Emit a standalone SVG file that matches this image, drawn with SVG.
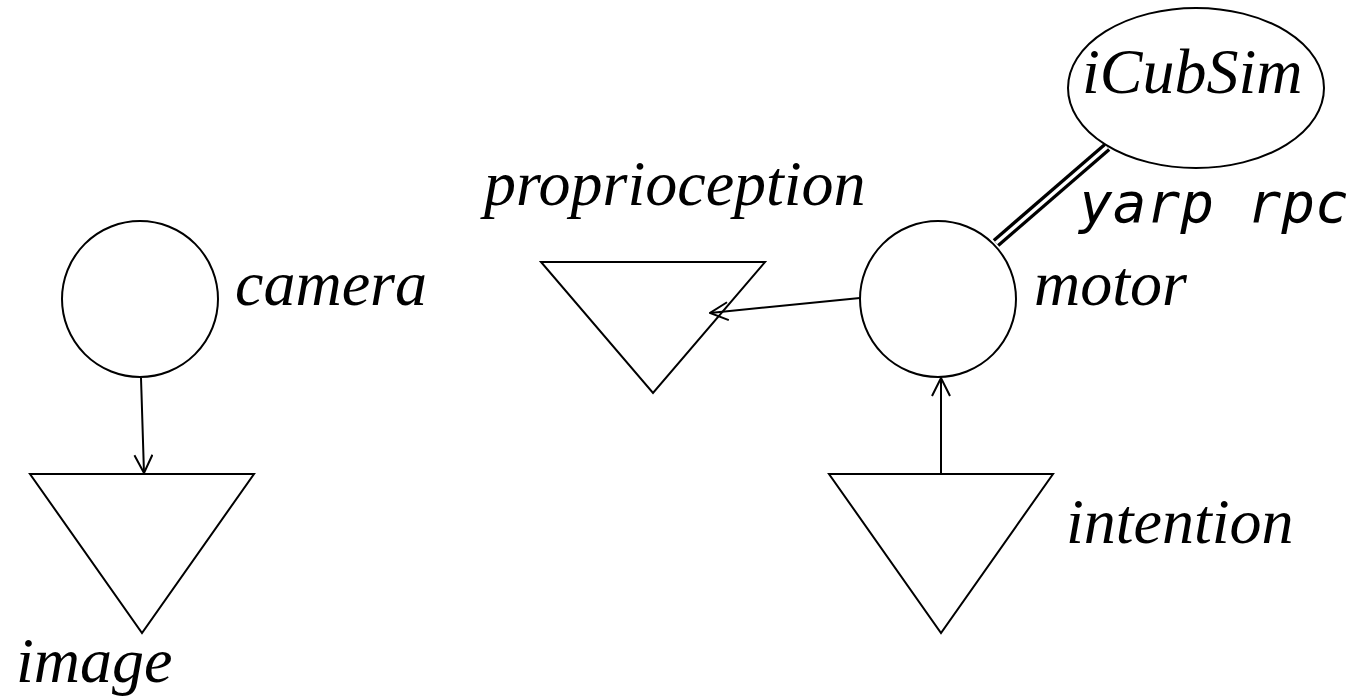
<svg xmlns="http://www.w3.org/2000/svg" width="1358" height="700" viewBox="0 0 1358 700">
<style>
.shape{fill:#fff;stroke:#000;stroke-width:2}
.lbl{font-family:"Liberation Serif","Times New Roman",serif;font-style:italic;font-size:64px;fill:#000}
.mono{font-family:"DejaVu Sans Mono",monospace;font-style:oblique;font-size:56px;fill:#000}
.conn{stroke:#000;stroke-width:2;fill:none}
</style>
<defs>
<marker id="arr" viewBox="0 0 20 20" refX="19" refY="10" markerWidth="20" markerHeight="20" markerUnits="userSpaceOnUse" orient="auto">
<path d="M1,1 L19,10 L1,19" fill="none" stroke="#000" stroke-width="2"/>
</marker>
</defs>
<rect width="1358" height="700" fill="#fff"/>
<g id="camera">
<circle class="shape" cx="140" cy="299" r="78"/>
<text class="lbl" x="235" y="305">camera</text>
</g>
<g id="image">
<polygon class="shape" points="30,474 254,474 142,633"/>
<text class="lbl" x="16" y="682">image</text>
</g>
<g id="proprioception">
<polygon class="shape" points="541,262 765,262 653,393"/>
<text class="lbl" x="484" y="205">proprioception</text>
</g>
<g id="motor">
<circle class="shape" cx="938" cy="299" r="78"/>
<text class="lbl" x="1034" y="305">motor</text>
</g>
<g id="intention">
<polygon class="shape" points="829,474 1053,474 941,633"/>
<text class="lbl" x="1066" y="543">intention</text>
</g>
<g id="iCubSim">
<ellipse class="shape" cx="1196" cy="88" rx="128" ry="80"/>
<text class="lbl" x="1082" y="93">iCubSim</text>
</g>
<g id="connectors">
<line class="conn" x1="141" y1="378" x2="144" y2="473" marker-end="url(#arr)"/>
<line class="conn" x1="860" y1="298" x2="710" y2="313" marker-end="url(#arr)"/>
<line class="conn" x1="941" y1="474" x2="941" y2="378" marker-end="url(#arr)"/>
<line x1="996" y1="243" x2="1107" y2="147" stroke="#000" stroke-width="10"/>
<line x1="996" y1="243" x2="1107" y2="147" stroke="#fff" stroke-width="3.5"/>
<text class="mono" x="1079" y="222">yarp rpc</text>
</g>
</svg>
